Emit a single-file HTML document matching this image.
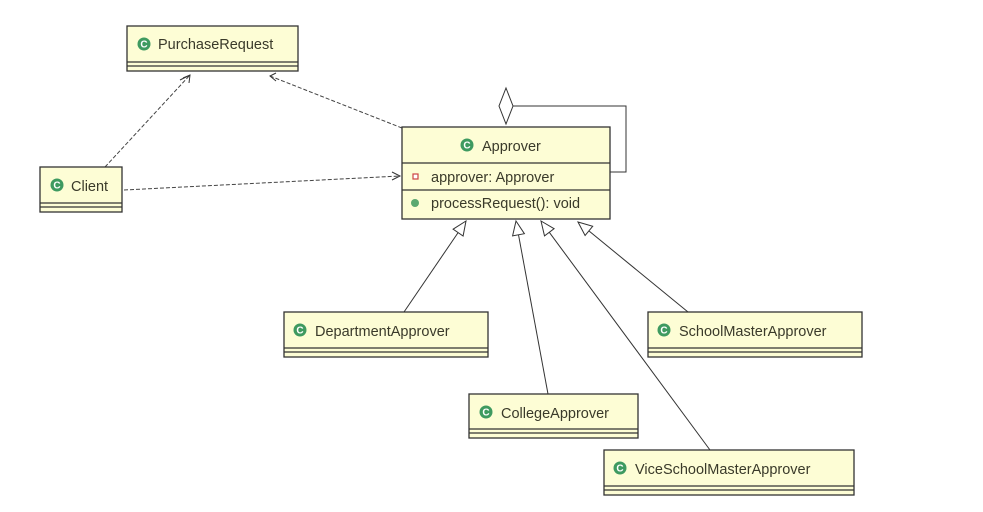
<!DOCTYPE html>
<html><head><meta charset="utf-8"><style>
body{margin:0;background:#fff;}
svg{display:block;font-family:"Liberation Sans",sans-serif;}
.b{fill:#fdfdd5;stroke:#333;stroke-width:1.3;}
.l{stroke:#333;stroke-width:1.2;}
.t{font-size:14.5px;fill:#3a3a2a;}
.d{stroke:#444;stroke-width:1;stroke-dasharray:4,2;fill:none;}
.s{stroke:#333;stroke-width:1;fill:none;}
.c{fill:#3e9a60;}
.ct{fill:#fff;font-size:10px;font-weight:bold;}
</style></head><body>
<svg width="983" height="512" viewBox="0 0 983 512">
<defs>
<g id="ic"><circle r="6.5" class="c"/><text x="-3.6" y="3.7" class="ct">C</text></g>
</defs>
<path class="d" d="M105 167 L190 75"/>
<path class="s" d="M183 78 L190 75 L189 83 M180 80 L190 75"/>
<path class="d" d="M402 128 L270 76"/>
<path class="s" d="M276 73 L270 76 L276 81"/>
<path class="d" d="M124 190 L400 176"/>
<path class="s" d="M392 172 L400 176 L392 180"/>
<path class="s" d="M506 88 L513 106 L506 124 L499 106 Z" fill="#fff"/>
<path class="s" d="M513 106 L626 106 L626 172 L610 172"/>
<path class="s" d="M404 312 L458.1 232.6"/>
<path class="s" fill="#fff" d="M466 221 L463.1 236 L453.1 229.2 Z"/>
<path class="s" d="M548 394 L518.5 234.8"/>
<path class="s" fill="#fff" d="M516 221 L524.4 233.7 L512.6 235.9 Z"/>
<path class="s" d="M710 450 L549.3 232.3"/>
<path class="s" fill="#fff" d="M541 221 L554.1 228.7 L544.5 235.9 Z"/>
<path class="s" d="M688 312 L588.9 230.9"/>
<path class="s" fill="#fff" d="M578 222 L592.7 226.3 L585.1 235.5 Z"/>
<rect class="b" x="127" y="26" width="171" height="45"/>
<line class="l" x1="127" y1="62" x2="298" y2="62"/><line class="l" x1="127" y1="66" x2="298" y2="66"/>
<use href="#ic" x="144" y="44"/><text class="t" x="158" y="49">PurchaseRequest</text>
<rect class="b" x="40" y="167" width="82" height="45"/>
<line class="l" x1="40" y1="203" x2="122" y2="203"/><line class="l" x1="40" y1="207" x2="122" y2="207"/>
<use href="#ic" x="57" y="185"/><text class="t" x="71" y="191">Client</text>
<rect class="b" x="402" y="127" width="208" height="92"/>
<line class="l" x1="402" y1="163" x2="610" y2="163"/><line class="l" x1="402" y1="190" x2="610" y2="190"/>
<use href="#ic" x="467" y="145"/><text class="t" x="482" y="151">Approver</text>
<rect x="413" y="174" width="5" height="5" fill="#fff" stroke="#c44" stroke-width="1.2"/>
<text class="t" x="431" y="182">approver: Approver</text>
<circle cx="415" cy="203" r="4" fill="#5aa870"/>
<text class="t" x="431" y="208">processRequest(): void</text>
<rect class="b" x="284" y="312" width="204" height="45"/>
<line class="l" x1="284" y1="348" x2="488" y2="348"/><line class="l" x1="284" y1="352" x2="488" y2="352"/>
<use href="#ic" x="300" y="330"/><text class="t" x="315" y="336">DepartmentApprover</text>
<rect class="b" x="648" y="312" width="214" height="45"/>
<line class="l" x1="648" y1="348" x2="862" y2="348"/><line class="l" x1="648" y1="352" x2="862" y2="352"/>
<use href="#ic" x="664" y="330"/><text class="t" x="679" y="336">SchoolMasterApprover</text>
<rect class="b" x="469" y="394" width="169" height="44"/>
<line class="l" x1="469" y1="429" x2="638" y2="429"/><line class="l" x1="469" y1="433" x2="638" y2="433"/>
<use href="#ic" x="486" y="412"/><text class="t" x="501" y="418">CollegeApprover</text>
<rect class="b" x="604" y="450" width="250" height="45"/>
<line class="l" x1="604" y1="486" x2="854" y2="486"/><line class="l" x1="604" y1="490" x2="854" y2="490"/>
<use href="#ic" x="620" y="468"/><text class="t" x="635" y="474">ViceSchoolMasterApprover</text>
</svg>
</body></html>
